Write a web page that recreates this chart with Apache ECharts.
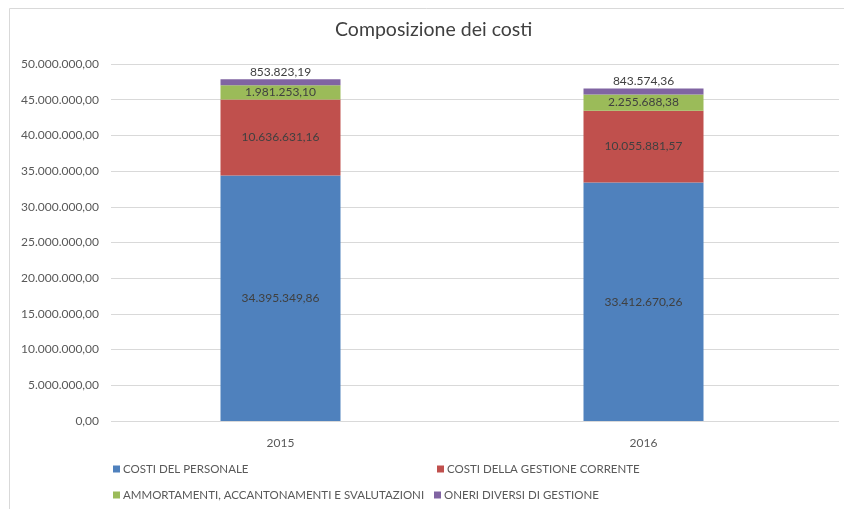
<!DOCTYPE html>
<html>
<head>
<meta charset="utf-8">
<script src="https://cdn.jsdelivr.net/npm/echarts@6/dist/echarts.min.js"></script>
<style>
html,body{margin:0;padding:0;background:#fff;}
#c{width:844px;height:509px;}
</style>
</head>
<body>
<div id="c"></div>
<script>
const categories = ['2015', '2016'];
const seriesNames = ['COSTI DEL PERSONALE', 'COSTI DELLA GESTIONE CORRENTE', 'AMMORTAMENTI, ACCANTONAMENTI E SVALUTAZIONI', 'ONERI DIVERSI DI GESTIONE'];
const personale = [34395349.86, 33412670.26];
const gestioneCorrente = [10636631.16, 10055881.57];
const ammortamenti = [1981253.10, 2255688.38];
const oneri = [853823.19, 843574.36];
const yMin = 0, yMax = 50000000, yStep = 5000000;

const FONT = 'Lato, "Open Sans", sans-serif';
const colors = ['#4f81bd', '#c0504d', '#9bbb59', '#8064a2'];

function fmt(v) {
  const s = Number(v).toFixed(2);
  const parts = s.split('.');
  const intPart = parts[0].replace(/\B(?=(\d{3})+(?!\d))/g, '.');
  return intPart + ',' + parts[1];
}

const chart = echarts.init(document.getElementById('c'), null, {renderer: 'canvas'});
const dataSets = [personale, gestioneCorrente, ammortamenti, oneri];
const labelPos = ['inside', 'inside', 'inside', 'top'];

const series = dataSets.map((d, i) => ({
  name: seriesNames[i],
  type: 'bar',
  stack: 'total',
  xAxisIndex: 0,
  yAxisIndex: 0,
  barWidth: 120,
  data: d,
  itemStyle: {color: colors[i]},
  label: {
    show: true,
    position: labelPos[i],
    distance: 1,
    color: '#404040',
    fontFamily: FONT,
    fontSize: 12,
    formatter: p => fmt(p.value)
  }
}));

const legendPos = [[113, 463], [437, 463], [113, 489], [434, 489]];
const legends = seriesNames.map((n, i) => ({
  data: [n],
  left: legendPos[i][0],
  top: legendPos[i][1],
  orient: 'horizontal',
  icon: 'rect',
  itemWidth: 7,
  itemHeight: 7,
  itemGap: 0,
  padding: 0,
  selectedMode: false,
  textStyle: {color: '#595959', fontFamily: FONT, fontSize: 11.5, padding: [0, 0, 0, -2]}
}));

chart.setOption({
  animation: false,
  backgroundColor: '#fff',
  title: {
    text: 'Composizione dei costi',
    left: 335,
    top: 20,
    padding: 0,
    textStyle: {color: '#404040', fontFamily: FONT, fontSize: 19.5, fontWeight: 'normal'}
  },
  legend: legends,
  grid: [
    {left: 99, width: 726, top: 64, height: 357},
    {left: 111, right: 5, top: 64, height: 357}
  ],
  xAxis: [
    {
      type: 'category', gridIndex: 0, data: categories,
      axisLine: {show: false}, axisTick: {show: false},
      axisLabel: {color: '#595959', fontFamily: FONT, fontSize: 12, margin: 16}
    },
    {type: 'value', gridIndex: 1, show: false, min: 0, max: 1}
  ],
  yAxis: [
    {type: 'value', gridIndex: 0, min: yMin, max: yMax, interval: yStep, show: false, splitLine: {show: false}},
    {
      type: 'value', gridIndex: 1, min: yMin, max: yMax, interval: yStep,
      axisLine: {show: false}, axisTick: {show: false},
      axisLabel: {color: '#595959', fontFamily: FONT, fontSize: 12, margin: 12, formatter: v => fmt(v)},
      splitLine: {lineStyle: {color: '#d9d9d9', width: 1}}
    }
  ],
  graphic: [{
    type: 'polyline',
    shape: {points: [[9.5, 509], [9.5, 8.5], [844, 8.5]]},
    style: {stroke: '#d9d9d9', lineWidth: 1, fill: null},
    silent: true
  }],
  series: series
});
</script>
</body>
</html>
